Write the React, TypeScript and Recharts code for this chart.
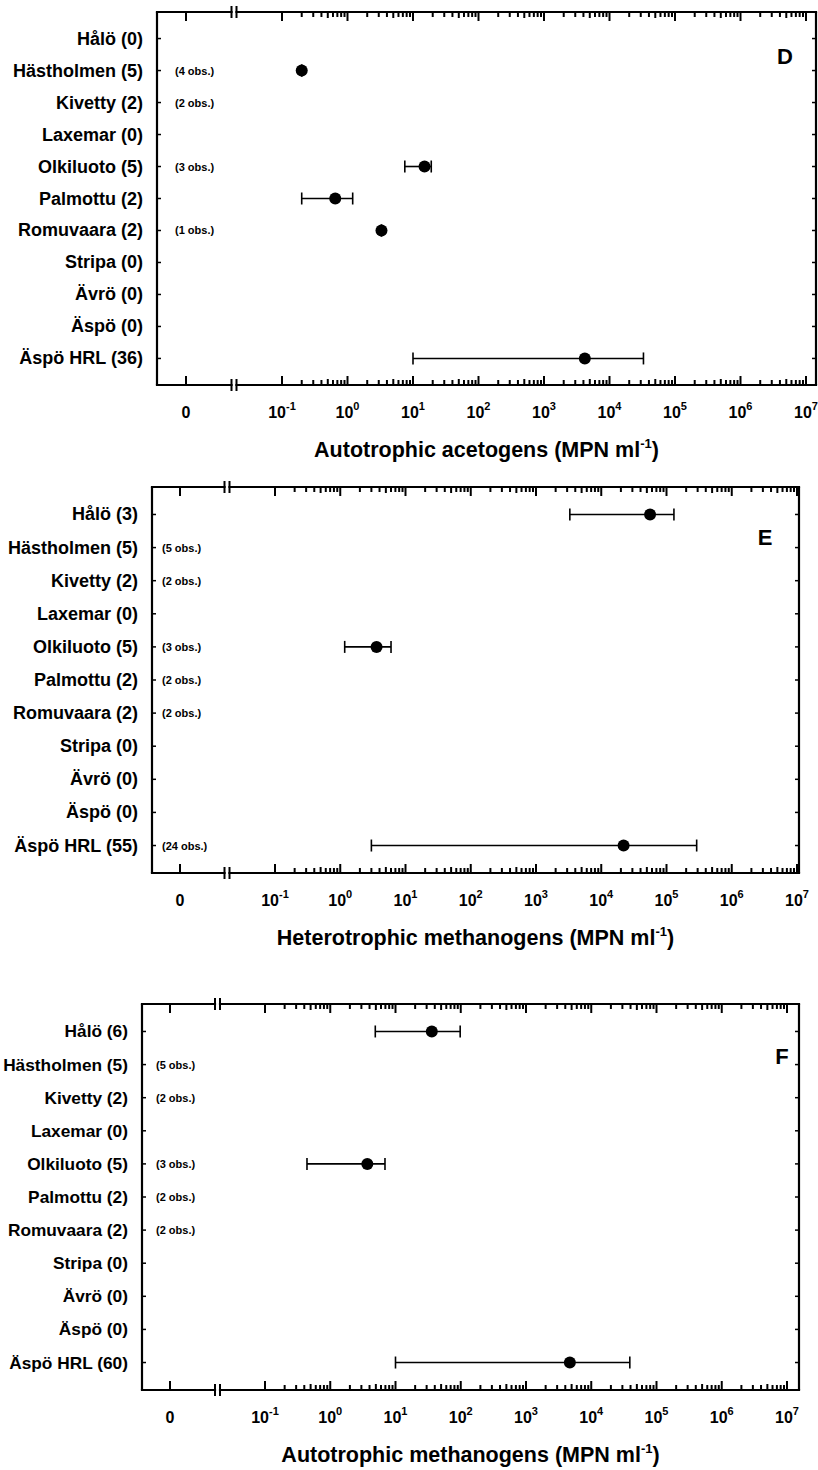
import React from "react";
import { ScatterChart, Scatter, XAxis, YAxis, ErrorBar, ReferenceLine, Label } from "recharts";

const FONT = "'Liberation Sans', Arial, Helvetica, sans-serif";

// sites, top to bottom
const SITES = ["Hålö", "Hästholmen", "Kivetty", "Laxemar", "Olkiluoto", "Palmottu", "Romuvaara", "Stripa", "Ävrö", "Äspö", "Äspö HRL"];
const ROWS = SITES.map((_, i) => i);

// number of samples per site (in the label)
const COUNTS_D = [0, 5, 2, 0, 5, 2, 2, 0, 0, 0, 36];
const COUNTS_E = [3, 5, 2, 0, 5, 2, 2, 0, 0, 0, 55];
const COUNTS_F = [6, 5, 2, 0, 5, 2, 2, 0, 0, 0, 60];

// "(n obs.)" notes
const OBS_D = [null, 4, 2, null, 3, null, 1, null, null, null, null];
const OBS_E = [null, 5, 2, null, 3, 2, 2, null, null, null, 24];
const OBS_F = [null, 5, 2, null, 3, 2, 2, null, null, null, null];

// median, min, max (MPN ml-1); null = nothing drawn
const MED_D = [null, 0.2, null, null, 15, 0.65, 3.3, null, null, null, 4200];
const MIN_D = [null, null, null, null, 7.5, 0.2, null, null, null, null, 10];
const MAX_D = [null, null, null, null, 19, 1.2, null, null, null, null, 33000];

const MED_E = [56000, null, null, null, 3.6, null, null, null, null, null, 22000];
const MIN_E = [3300, null, null, null, 1.17, null, null, null, null, null, 3];
const MAX_E = [130000, null, null, null, 6, null, null, null, null, null, 290000];

const MED_F = [36, null, null, null, 3.7, null, null, null, null, null, 4700];
const MIN_F = [4.9, null, null, null, 0.44, null, null, null, null, null, 10];
const MAX_F = [98, null, null, null, 6.9, null, null, null, null, null, 39000];

// x axis: "0" position, axis break, then log decades 10^-1 .. 10^7
const DECADES = [-1, 0, 1, 2, 3, 4, 5, 6, 7];
const MINOR_K = [2, 3, 4, 5, 6, 7, 8, 9];
const Y_DOM: [number, number] = [-0.83, 10.83];
const TOP_PAD = 12;

const MINORS = DECADES.slice(0, -1).flatMap((d) => MINOR_K.map((k) => ({ u: d + Math.log10(k), len: k === 5 ? 6 : 5 })));

function toRows(med: (number | null)[], lo: (number | null)[], hi: (number | null)[]) {
  return med
    .map((v, i) => {
      if (v == null) return null;
      const u = Math.log10(v);
      const err = lo[i] != null && hi[i] != null ? [u - Math.log10(lo[i] as number), Math.log10(hi[i] as number) - u] : [0, 0];
      return { row: i, u, err };
    })
    .filter(Boolean);
}

// pixel layout of each panel: frame, "0" tick, break, 10^-1 tick, px per decade
function axisFor(l: { left: number; right: number; zero: number; brk: number; first: number; dec: number }) {
  return {
    min: -1 - (l.first - l.left) / l.dec,
    max: 7 + (l.right - (l.first + 8 * l.dec)) / l.dec,
    zero: -1 - (l.first - l.zero) / l.dec,
    brk: -1 - (l.first - l.brk) / l.dec,
    gap: 2.5 / l.dec,
  };
}

const PANELS = [
  { letter: "D", title: "Autotrophic acetogens", counts: COUNTS_D, obs: OBS_D, data: toRows(MED_D, MIN_D, MAX_D),
    left: 157, right: 816, top: 12, bottom: 385, noteDx: 18, letterDx: -31, letterDy: 52, labelSize: 18,
    ax: axisFor({ left: 157, right: 816, zero: 186, brk: 234, first: 282, dec: 65.5 }) },
  { letter: "E", title: "Heterotrophic methanogens", counts: COUNTS_E, obs: OBS_E, data: toRows(MED_E, MIN_E, MAX_E),
    left: 152, right: 799, top: 487, bottom: 873, noteDx: 10, letterDx: -34, letterDy: 58, labelSize: 18,
    ax: axisFor({ left: 152, right: 799, zero: 180, brk: 227, first: 275, dec: 65.25 }) },
  { letter: "F", title: "Autotrophic methanogens", counts: COUNTS_F, obs: OBS_F, data: toRows(MED_F, MIN_F, MAX_F),
    left: 142, right: 799, top: 1004, bottom: 1390, noteDx: 14, letterDx: -17, letterDy: 60, labelSize: 17.3,
    ax: axisFor({ left: 142, right: 799, zero: 170, brk: 217.5, first: 265, dec: 65.25 }) },
];

function Panel({ p }: { p: (typeof PANELS)[number] }) {
  const chartTop = p.top - TOP_PAD;
  const bottomY = p.bottom - chartTop;
  const height = bottomY + 90;
  const ax = p.ax;
  const marks = [{ u: ax.zero, len: 9 }, ...DECADES.map((d) => ({ u: d, len: 9 })), ...MINORS];
  return (
    <div style={{ position: "absolute", left: 0, top: chartTop }}>
      <ScatterChart width={818} height={height} margin={{ top: TOP_PAD - 1, right: 818 - p.right - 1, bottom: 0, left: 0 }}>
        <XAxis
          type="number" dataKey="u" domain={[ax.min, ax.max]} allowDataOverflow ticks={[ax.zero, ...DECADES]} interval={0}
          height={90} tickSize={0} tickMargin={0} tickLine={false} axisLine={false}
          tick={({ x, payload }: any) =>
            payload.value < -1.5 ? (
              <text x={x} y={bottomY + 33} textAnchor="middle" fontSize={16} fontWeight="bold" fontFamily={FONT}>0</text>
            ) : (
              <text x={x} y={bottomY + 33} textAnchor="middle" fontSize={16} fontWeight="bold" fontFamily={FONT}>
                10<tspan dy={-8} fontSize={11}>{Math.round(payload.value)}</tspan>
              </text>
            )
          }
        >
          <Label
            content={({ viewBox }: any) => (
              <text x={viewBox.x + viewBox.width / 2} y={bottomY + 72} textAnchor="middle" fontSize={21.5} fontWeight="bold" fontFamily={FONT}>
                {p.title} (MPN ml<tspan dy={-9} fontSize={13}>-1</tspan><tspan dy={9}>)</tspan>
              </text>
            )}
          />
        </XAxis>
        <XAxis
          xAxisId="t" orientation="top" type="number" domain={[ax.min, ax.max]} allowDataOverflow ticks={[]}
          height={1} tickLine={false} axisLine={false} tick={false}
        >
          <Label
            content={({ viewBox }: any) => (
              <text x={viewBox.x + viewBox.width + p.letterDx} y={TOP_PAD + p.letterDy} textAnchor="middle" fontSize={22} fontWeight="bold" fontFamily={FONT}>
                {p.letter}
              </text>
            )}
          />
        </XAxis>
        <YAxis
          type="number" dataKey="row" domain={Y_DOM} allowDataOverflow reversed ticks={ROWS} interval={0}
          width={p.left} tickSize={0} tickMargin={0} tickLine={false} axisLine={{ stroke: "#000", strokeWidth: 2.2 }}
          tick={({ y, payload }: any) => {
            const i = payload.value;
            const x = p.left;
            return (
              <g>
                <line x1={x} x2={x + 4} y1={y} y2={y} stroke="#000" strokeWidth={1.5} />
                <text x={x - 14} y={y + 6} textAnchor="end" fontSize={p.labelSize} fontWeight="bold" fontFamily={FONT}>
                  {SITES[i]} ({p.counts[i]})
                </text>
                {p.obs[i] != null && (
                  <text x={x + p.noteDx} y={y + 4} fontSize={11} fontWeight="bold" fontFamily={FONT}>
                    ({p.obs[i]} obs.)
                  </text>
                )}
              </g>
            );
          }}
        />
        <YAxis
          yAxisId="r" orientation="right" type="number" domain={Y_DOM} allowDataOverflow reversed ticks={ROWS} interval={0}
          width={1} tickSize={0} tickMargin={0} tickLine={false} axisLine={{ stroke: "#000", strokeWidth: 2.2 }}
          tick={({ y }: any) => <line x1={p.right - 4} x2={p.right} y1={y} y2={y} stroke="#000" strokeWidth={1.5} />}
        />
        {/* top and bottom frame, interrupted at the axis break */}
        {[Y_DOM[0], Y_DOM[1]].flatMap((yy) => [
          <ReferenceLine key={`a${yy}`} segment={[{ x: ax.min, y: yy }, { x: ax.brk - ax.gap, y: yy }]} stroke="#000" strokeWidth={2.2} strokeLinecap="square" />,
          <ReferenceLine key={`b${yy}`} segment={[{ x: ax.brk + ax.gap, y: yy }, { x: ax.max, y: yy }]} stroke="#000" strokeWidth={2.2} strokeLinecap="square" />,
        ])}
        {[ax.brk - ax.gap, ax.brk + ax.gap].map((bx) => (
          <ReferenceLine
            key={`brk${bx}`}
            x={bx}
            shape={(s: any) => (
              <g stroke="#000" strokeWidth={2}>
                <line x1={s.x1} x2={s.x1} y1={TOP_PAD - 6} y2={TOP_PAD + 6} />
                <line x1={s.x1} x2={s.x1} y1={bottomY - 6} y2={bottomY + 6} />
              </g>
            )}
          />
        ))}
        {/* inward tick marks on the top and bottom axes */}
        {marks.map((m) => (
          <ReferenceLine
            key={`m${m.u}`}
            x={m.u}
            shape={(s: any) => (
              <g stroke="#000" strokeWidth={2}>
                <line x1={s.x1} x2={s.x1} y1={TOP_PAD} y2={TOP_PAD + m.len} />
                <line x1={s.x1} x2={s.x1} y1={bottomY} y2={bottomY - m.len} />
              </g>
            )}
          />
        ))}
        <Scatter
          data={p.data as any[]}
          isAnimationActive={false}
          shape={(s: any) => <circle cx={s.cx} cy={s.cy} r={6} fill="#000" />}
        >
          <ErrorBar dataKey="err" direction="x" width={6} stroke="#000" strokeWidth={1.6} isAnimationActive={false} />
        </Scatter>
      </ScatterChart>
    </div>
  );
}

export default function App() {
  return (
    <div style={{ position: "absolute", left: 0, top: 0, width: 818, height: 1470, background: "#fff" }}>
      {PANELS.map((p) => (
        <Panel key={p.letter} p={p} />
      ))}
    </div>
  );
}
